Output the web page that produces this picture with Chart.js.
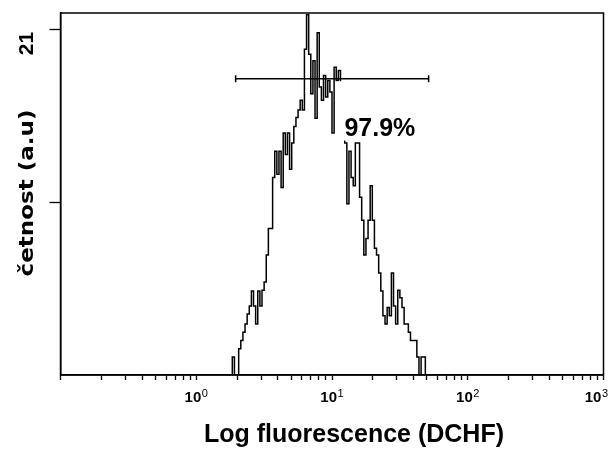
<!DOCTYPE html>
<html><head><meta charset="utf-8">
<script src="https://cdn.jsdelivr.net/npm/chart.js@4.4.1/dist/chart.umd.min.js"></script>
<style>html,body{margin:0;padding:0;background:#fff;} #wrap{width:609px;height:452px;}</style>
</head><body><div id="wrap"><canvas id="c" width="609" height="452"></canvas></div>
<script>
// ---- data ----
const firstChannel = 81;          // first channel shown (256 channels over 4 decades)
const channelsPerDecade = 64;
const firstDecade = -1;           // axis starts at 10^-1
const counts = [
  1.1, 0, 0, 1.6, 2.1, 2.6, 3.1, 3.7, 4.2, 5.1,
  4.2, 3.1, 5.1, 4.2, 5.15, 5.65, 7.3, 8.9, 8.9, 12.0,
  13.6, 12.2, 13.6, 11.4, 14.7, 13.4, 14.7, 12.5, 14.1, 15.1,
  15.65, 16.1, 16.7, 16.1, 19.8, 21.9, 19.5, 17.1, 19.1, 15.6,
  20.8, 17.5, 16.7, 18.2, 16.9, 17.9, 17.2, 14.7, 18.7, 17.9,
  18.5, 14.6, 14.5, 14.1, 10.4, 13.6, 12.0, 11.5, 14.1, 14.1,
  10.8, 9.4, 7.3, 8.3, 9.4, 11.5, 9.4, 7.7, 7.3, 6.2,
  5.1, 3.6, 3.1, 4.1, 3.6, 6.2, 4.2, 3.1, 5.15, 4.7,
  4.1, 3.1, 3.1, 2.6, 2.1, 2.1, 2.1, 1.1, 0, 1.1,
  1.1, 0
];
const xTickValues = [0.1,0.2,0.3,0.4,0.5,0.6,0.7,0.8,0.9,
  1,2,3,4,5,6,7,8,9,
  10,20,30,40,50,60,70,80,90,
  100,200,300,400,500,600,700,800,900,1000];
const xMajorTicks = [1, 10, 100, 1000];
const xMajorExponents = ['0', '1', '2', '3'];
const yTickValues = [10.5, 21];
const yTickLabels = ['', '21'];
const gateRange = [1.95, 51.5];
const gateLevel = 18;
const gateLabel = '97.9%';
const xTitle = 'Log fluorescence (DCHF)';
const yTitle = 'četnost (a.u)';

// ---- build ----
const edge = ch => Math.pow(10, firstDecade + ch / channelsPerDecade);
const histPoints = [{x: edge(firstChannel), y: 0}];
counts.forEach((c, i) => histPoints.push({x: edge(firstChannel + i), y: c}));
histPoints.push({x: edge(firstChannel + counts.length), y: 0});

const gatePoints = gateRange.map(v => ({x: v, y: gateLevel}));

const labelOpts = {
  textX: 12.35, textY: 14.55,
  boxX: [10.9, 42], boxY: [14.25, 17.85]
};

const decorPlugin = {
  id: 'decor',
  afterDatasetDraw(chart, args) {
    if (args.index !== 1) return;
    const ctx = chart.ctx, xs = chart.scales.x, ys = chart.scales.y;
    ctx.save();
    const x0 = xs.getPixelForValue(labelOpts.boxX[0]), x1 = xs.getPixelForValue(labelOpts.boxX[1]);
    const y0 = ys.getPixelForValue(labelOpts.boxY[1]), y1 = ys.getPixelForValue(labelOpts.boxY[0]);
    ctx.fillStyle = '#fff';
    ctx.fillRect(x0, y0, x1 - x0, y1 - y0);
    ctx.fillStyle = '#000';
    ctx.font = "bold 25px 'Liberation Sans', Arial, sans-serif";
    ctx.textAlign = 'left';
    ctx.textBaseline = 'alphabetic';
    ctx.fillText(gateLabel, xs.getPixelForValue(labelOpts.textX), ys.getPixelForValue(labelOpts.textY));
    ctx.restore();
  },
  afterDraw(chart) {
    const ctx = chart.ctx, a = chart.chartArea, xs = chart.scales.x, ys = chart.scales.y;
    ctx.save();
    ctx.strokeStyle = '#000';
    ctx.lineWidth = 1.5;
    ctx.strokeRect(a.left, a.top, a.right - a.left, a.bottom - a.top);
    ctx.fillStyle = '#000';
    ctx.textBaseline = 'alphabetic';
    // x tick labels with superscript exponents
    xMajorTicks.forEach((v, i) => {
      const px = xs.getPixelForValue(v);
      ctx.font = "bold 15px 'Liberation Sans', Arial, sans-serif";
      const wBase = ctx.measureText('10').width;
      ctx.font = "11px 'Liberation Sans', Arial, sans-serif";
      const wSup = ctx.measureText(xMajorExponents[i]).width;
      const total = wBase + 0.5 + wSup;
      let left = px - total / 2;
      if (left + total > chart.width - 1) left = chart.width - 1 - total;
      ctx.textAlign = 'left';
      ctx.font = "bold 15px 'Liberation Sans', Arial, sans-serif";
      ctx.fillText('10', left, a.bottom + 26.7);
      ctx.font = "11px 'Liberation Sans', Arial, sans-serif";
      ctx.fillText(xMajorExponents[i], left + wBase + 0.5, a.bottom + 22);
    });
    // y tick labels (rotated)
    yTickValues.forEach((v, i) => {
      if (!yTickLabels[i]) return;
      const py = ys.getPixelForValue(v);
      ctx.save();
      ctx.translate(a.left - 27.3, py + 2.4);
      ctx.rotate(-Math.PI / 2);
      ctx.font = "bold 21px 'Liberation Sans', Arial, sans-serif";
      ctx.textAlign = 'right';
      ctx.fillText(yTickLabels[i], 0, 0);
      ctx.restore();
    });
    // y title
    ctx.save();
    ctx.translate(a.left - 27.3, (a.top + a.bottom) / 2 - 1);
    ctx.rotate(-Math.PI / 2);
    ctx.font = "bold 20px 'DejaVu Sans', Verdana, sans-serif";
    const wy = ctx.measureText(yTitle).width;
    ctx.scale(167 / wy, 1);
    ctx.textAlign = 'center';
    ctx.fillText(yTitle, 0, 0);
    ctx.restore();
    // x title
    ctx.font = "bold 25px 'Liberation Sans', Arial, sans-serif";
    ctx.textAlign = 'center';
    ctx.fillText(xTitle, (a.left + a.right) / 2 + 22, a.bottom + 66.7);
    ctx.restore();
  }
};

new Chart(document.getElementById('c'), {
  type: 'line',
  data: {
    datasets: [
      {
        label: 'gate',
        data: gatePoints,
        borderColor: '#000',
        borderWidth: 1.5,
        pointStyle: 'line',
        rotation: 90,
        pointRadius: 3.5,
        pointBorderWidth: 1.5,
        pointBorderColor: '#000',
        fill: false
      },
      {
        label: 'histogram',
        data: histPoints,
        stepped: true,
        borderColor: '#000',
        borderWidth: 1.5,
        pointRadius: 0,
        fill: false
      }
    ]
  },
  options: {
    responsive: false,
    animation: false,
    layout: {padding: {left: 49.5, right: 3, top: 13, bottom: 72}},
    plugins: {legend: {display: false}, tooltip: {enabled: false}},
    scales: {
      x: {
        type: 'logarithmic',
        min: 0.1, max: 1000,
        afterBuildTicks: axis => { axis.ticks = xTickValues.map(v => ({value: v, major: xMajorTicks.includes(v)})); },
        ticks: {display: false, autoSkip: false},
        grid: {display: true, drawOnChartArea: false, drawTicks: true, tickLength: 5, tickColor: '#000', tickWidth: 1.3},
        border: {display: true, color: '#000', width: 1.5}
      },
      y: {
        type: 'linear',
        min: 0, max: 22,
        afterBuildTicks: axis => { axis.ticks = yTickValues.map(v => ({value: v})); },
        ticks: {display: false, autoSkip: false},
        grid: {display: true, drawOnChartArea: false, drawTicks: true, tickLength: 11, tickColor: '#000', tickWidth: 1.3},
        border: {display: true, color: '#000', width: 1.5}
      }
    }
  },
  plugins: [decorPlugin]
});
</script>
</body></html>
